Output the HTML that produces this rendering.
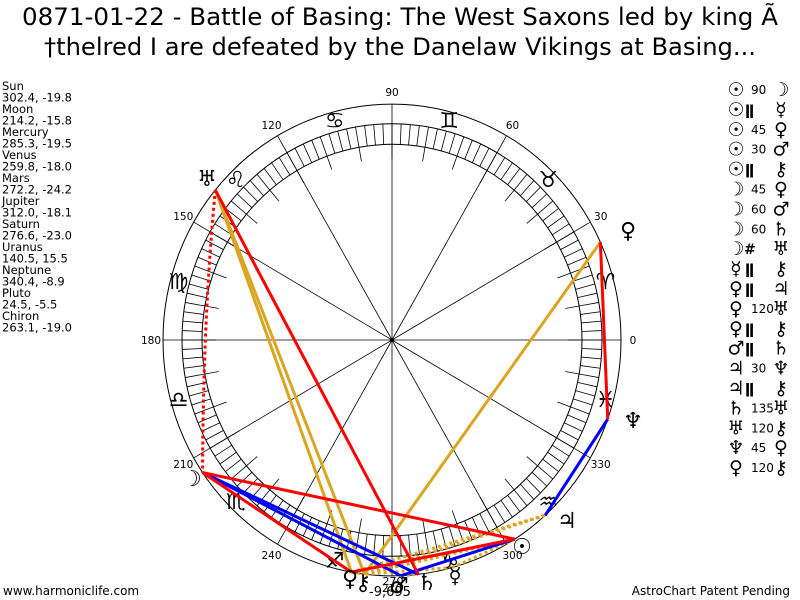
<!DOCTYPE html>
<html><head><meta charset="utf-8"><style>
html,body{margin:0;padding:0;background:#fff;}
body{width:800px;height:600px;overflow:hidden;position:relative;font-family:"DejaVu Sans","Liberation Sans",sans-serif;}
svg{position:absolute;left:0;top:0;}
</style></head><body>
<svg id="s" width="800" height="600" xmlns="http://www.w3.org/2000/svg" font-family="DejaVu Sans, Liberation Sans, sans-serif">
<text x="400" y="25" font-size="24" text-anchor="middle" fill="#000" textLength="756" lengthAdjust="spacingAndGlyphs">0871-01-22 - Battle of Basing: The West Saxons led by king Ã</text>
<text x="400" y="55" font-size="24" text-anchor="middle" fill="#000" textLength="712" lengthAdjust="spacingAndGlyphs">†thelred I are defeated by the Danelaw Vikings at Basing...</text>
<g font-size="11.5" fill="#000">
<text x="2" y="90">Sun</text><text x="2" y="101.5">302.4, -19.8</text>
<text x="2" y="113">Moon</text><text x="2" y="124.5">214.2, -15.8</text>
<text x="2" y="136">Mercury</text><text x="2" y="147.5">285.3, -19.5</text>
<text x="2" y="159">Venus</text><text x="2" y="170.5">259.8, -18.0</text>
<text x="2" y="182">Mars</text><text x="2" y="193.5">272.2, -24.2</text>
<text x="2" y="205">Jupiter</text><text x="2" y="216.5">312.0, -18.1</text>
<text x="2" y="228">Saturn</text><text x="2" y="239.5">276.6, -23.0</text>
<text x="2" y="251">Uranus</text><text x="2" y="262.5">140.5, 15.5</text>
<text x="2" y="274">Neptune</text><text x="2" y="285.5">340.4, -8.9</text>
<text x="2" y="297">Pluto</text><text x="2" y="308.5">24.5, -5.5</text>
<text x="2" y="320">Chiron</text><text x="2" y="331.5">263.1, -19.0</text>
</g>
<text x="3" y="595" font-size="12">www.harmoniclife.com</text>
<text x="790" y="595" font-size="12" text-anchor="end">AstroChart Patent Pending</text>
<g id="chart"></g>
</svg>
<script>
var cx=392,cy=340,R=229,R1=210,R2=190,K=1.03;
var g=document.getElementById('chart');var h='';
function P(a,r){var t=a*Math.PI/180;return [cx+r*Math.cos(t),cy-r*K*Math.sin(t)];}
function E(r){return '<ellipse cx="'+cx+'" cy="'+cy+'" rx="'+r+'" ry="'+(r*K)+'" fill="none" stroke="#000" stroke-width="1"/>';}
h+=E(R)+E(R1)+E(R2);
for(var a=0;a<360;a+=2.5){var p=P(a,R2),q=P(a,R1);h+='<line x1="'+p[0]+'" y1="'+p[1]+'" x2="'+q[0]+'" y2="'+q[1]+'" stroke="#000" stroke-width="0.8"/>';}
for(var a=0;a<360;a+=10){var p=P(a,R2-14),q=P(a,R2);h+='<line x1="'+p[0]+'" y1="'+p[1]+'" x2="'+q[0]+'" y2="'+q[1]+'" stroke="#000" stroke-width="0.8"/>';}
for(var a=0;a<360;a+=30){var q=P(a,R);h+='<line x1="'+cx+'" y1="'+cy+'" x2="'+q[0]+'" y2="'+q[1]+'" stroke="#000" stroke-width="0.8"/>';
 var l=P(a,R+12);h+='<text x="'+l[0]+'" y="'+(l[1]+4)+'" font-size="10.5" text-anchor="middle">'+a+'</text>';}
h+='<circle cx="'+cx+'" cy="'+cy+'" r="2" fill="#000"/>';
var signs=['♈','♉','♊','♋','♌','♍','♎','♏','♐','♑','♒','♓'];
for(var i=0;i<12;i++){var p=P(i*30+15,221);h+='<text x="'+p[0]+'" y="'+(p[1]+8)+'" font-size="22" text-anchor="middle">'+signs[i]+'</text>';}
var L={su:302.4,mo:214.2,me:285.3,ve:259.8,ma:272.2,ju:312.0,sa:276.6,ur:140.5,ne:340.4,pl:24.5,ch:263.1};
function ln(a,b,c,d){var p=P(L[a],R),q=P(L[b],R);h+='<line x1="'+p[0]+'" y1="'+p[1]+'" x2="'+q[0]+'" y2="'+q[1]+'" stroke="'+c+'" stroke-width="3"'+(d?' stroke-dasharray="3,3"':'')+'/>';}
var gold='#daa520';
[['su','me'],['su','ch'],['me','ch'],['ve','ju'],['ve','ch'],['ma','sa'],['ju','ch']].forEach(function(x){ln(x[0],x[1],gold,1);});
[['ve','ur'],['ur','ch'],['pl','ch']].forEach(function(x){ln(x[0],x[1],gold);});
[['su','ma'],['mo','ma'],['mo','sa'],['ju','ne']].forEach(function(x){ln(x[0],x[1],'#0000ff');});
[['su','mo'],['su','ve'],['mo','ve'],['sa','ur'],['ne','pl']].forEach(function(x){ln(x[0],x[1],'#ff0000');});
var pu=P(L.ur,R),pm=P(L.mo,R);
h+='<path d="M'+pu[0]+','+pu[1]+' Q203,320 '+pm[0]+','+pm[1]+'" fill="none" stroke="#ff0000" stroke-width="3" stroke-dasharray="3,3"/>';
var G=[['♅',207,178],['♀',628,230],['♆',633,420],['☽',192,478],['♃',567,520],['☉',522,546],['☿',455,575],['♄',427,582],['⚷',363,582],['♀',350,578],['♂',399,585]];
G.forEach(function(x){h+='<text x="'+x[1]+'" y="'+(x[2]+8)+'" font-size="22" text-anchor="middle">'+x[0]+'</text>';});
h+='<text x="390" y="596" font-size="13" text-anchor="middle">-9,695</text>';
h+='<text x="393" y="585" font-size="11" text-anchor="middle">270</text>';
var A=[['☉','90','☽'],['☉','||','☿'],['☉','45','♀'],['☉','30','♂'],['☉','||','⚷'],['☽','45','♀'],['☽','60','♂'],['☽','60','♄'],['☽','#','♅'],['☿','||','⚷'],['♀','||','♃'],['♀','120','♅'],['♀','||','⚷'],['♂','||','♄'],['♃','30','♆'],['♃','||','⚷'],['♄','135','♅'],['♅','120','⚷'],['♆','45','♀'],['♀','120','⚷']];
A.forEach(function(r,i){var y=89+i*19.9+5;
 h+='<text x="736" y="'+(y+2)+'" font-size="19" font-weight="bold" text-anchor="middle">'+r[0]+'</text>';
 var m=r[1];if(m=='||')h+='<text x="745" y="'+(y+1)+'" font-size="14" font-weight="bold">ǁ</text>';else if(m=='#')h+='<text x="744" y="'+(y+1)+'" font-size="14" font-weight="bold">#</text>';else h+='<text x="751" y="'+y+'" font-size="12">'+m+'</text>';
 h+='<text x="781" y="'+(y+2)+'" font-size="19" text-anchor="middle">'+r[2]+'</text>';});
g.innerHTML=h;
</script>
</body></html>
